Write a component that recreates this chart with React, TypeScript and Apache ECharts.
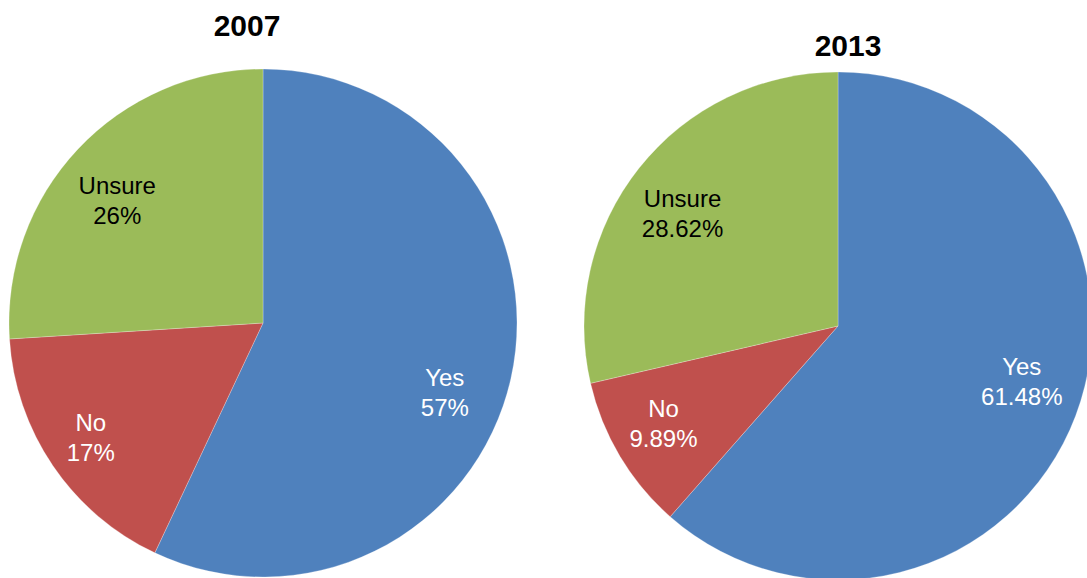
import React, { useEffect, useRef } from "react";
import * as echarts from "echarts";

const categories = ["Yes", "No", "Unsure"];
const values2007 = [57, 17, 26];
const values2013 = [61.48, 9.89, 28.62];
const years = ["2007", "2013"];
const colors = ["#4F81BD", "#C0504D", "#9BBB59"];
const labelColors = ["#ffffff", "#ffffff", "#000000"];

const FONT = "'Liberation Sans', Arial, sans-serif";
const R = 254;

// small label nudges (Excel best-fit placement differs from ECharts' mid-angle)
const nudge2007 = [[-12, 26], [-8, 3], [-1, 13]];
const nudge2013 = [[-2, -15], [-4, -4], [0, 11]];

function pieData(values: number[]) {
  return categories.map((name, i) => ({
    name,
    value: values[i],
    itemStyle: { color: colors[i] },
  }));
}

function labelData(values: number[]) {
  return categories.map((name, i) => ({
    name,
    value: values[i],
    label: { color: labelColors[i] },
  }));
}

function pieSeries(values: number[], center: number[], nudge: number[][]) {
  return [
    {
      type: "pie",
      center,
      radius: [0, R],
      startAngle: 90,
      clockwise: true,
      silent: true,
      label: { show: false },
      labelLine: { show: false },
      itemStyle: { borderColor: "rgba(255,255,255,0.5)", borderWidth: 0.5 },
      data: pieData(values),
    },
    {
      type: "pie",
      center,
      radius: [R * 0.54, R],
      startAngle: 90,
      clockwise: true,
      silent: true,
      avoidLabelOverlap: false,
      itemStyle: { color: "transparent" },
      label: {
        show: true,
        position: "inside",
        formatter: "{b}\n{c}%",
        fontSize: 24,
        lineHeight: 30,
        fontFamily: FONT,
        align: "center",
      },
      labelLayout: (p: any) => ({
        dx: nudge[p.dataIndex][0],
        dy: nudge[p.dataIndex][1],
      }),
      labelLine: { show: false },
      data: labelData(values),
    },
  ];
}

export default function App() {
  const ref = useRef<HTMLDivElement>(null);
  useEffect(() => {
    if (!ref.current) return;
    const chart = echarts.init(ref.current, undefined, { renderer: "svg" });
    chart.setOption({
      animation: false,
      backgroundColor: "#ffffff",
      graphic: [
        {
          type: "text",
          x: 247,
          y: 25,
          style: {
            text: years[0],
            fontSize: 30,
            fontWeight: "bold",
            fontFamily: FONT,
            fill: "#000",
            textAlign: "center",
            textVerticalAlign: "middle",
          },
        },
        {
          type: "text",
          x: 848,
          y: 45,
          style: {
            text: years[1],
            fontSize: 30,
            fontWeight: "bold",
            fontFamily: FONT,
            fill: "#000",
            textAlign: "center",
            textVerticalAlign: "middle",
          },
        },
      ],
      series: [
        ...pieSeries(values2007, [263, 323], nudge2007),
        ...pieSeries(values2013, [838, 326], nudge2013),
      ],
    });
    return () => chart.dispose();
  }, []);
  return (
    <div
      ref={ref}
      style={{ position: "fixed", left: 0, top: 0, width: 1087, height: 578 }}
    />
  );
}
